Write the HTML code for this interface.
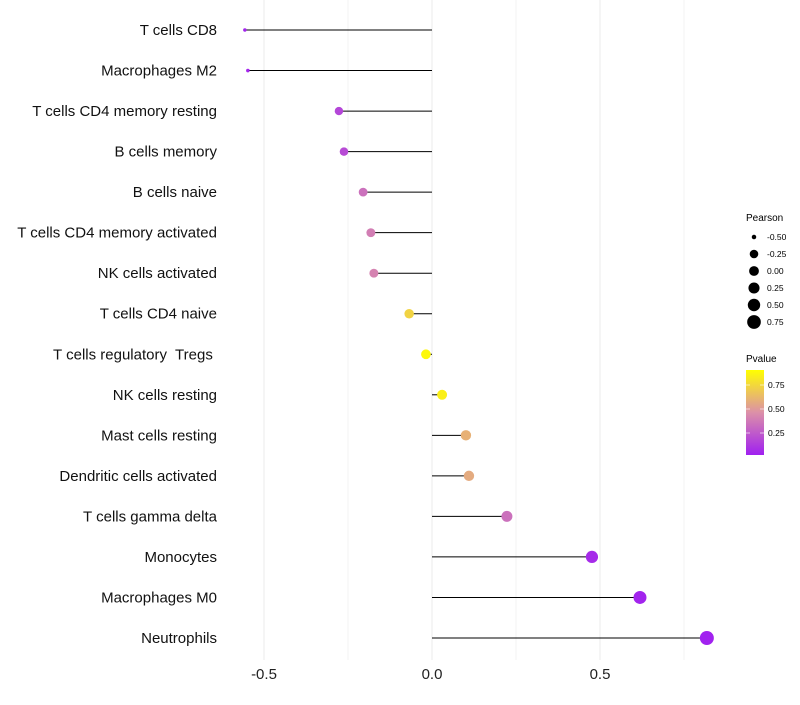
<!DOCTYPE html>
<html><head><meta charset="utf-8"><style>
body{margin:0;background:#fff;font-family:"Liberation Sans",sans-serif}
</style></head><body>
<svg id="chart" width="800" height="700" xmlns="http://www.w3.org/2000/svg" font-family="Liberation Sans, sans-serif">
<defs><linearGradient id="pg" x1="0" y1="1" x2="0" y2="0">
<stop offset="0" stop-color="#A020F0"/><stop offset="0.5" stop-color="#DC90A8"/><stop offset="1" stop-color="#FFFF00"/>
</linearGradient></defs>
<g id="grid"></g><g id="marks"></g><g id="labels"></g>
<g>
<text x="746" y="221" font-size="10">Pearson</text>
<g id="sizeleg"></g>
</g>
<g>
<text x="746" y="362" font-size="10">Pvalue</text>
<rect x="746" y="370" width="18" height="85" fill="url(#pg)"/>
<line x1="746" x2="750" y1="385" y2="385" stroke="#fff" stroke-opacity="0.6"/><line x1="760" x2="764" y1="385" y2="385" stroke="#fff" stroke-opacity="0.6"/>
<line x1="746" x2="750" y1="409" y2="409" stroke="#fff" stroke-opacity="0.6"/><line x1="760" x2="764" y1="409" y2="409" stroke="#fff" stroke-opacity="0.6"/>
<line x1="746" x2="750" y1="433" y2="433" stroke="#fff" stroke-opacity="0.6"/><line x1="760" x2="764" y1="433" y2="433" stroke="#fff" stroke-opacity="0.6"/>
<text x="768" y="388" font-size="8.5">0.75</text><text x="768" y="412" font-size="8.5">0.50</text><text x="768" y="436" font-size="8.5">0.25</text>
</g>
</svg>
<script>
const categories=["T cells CD8","Macrophages M2","T cells CD4 memory resting","B cells memory","B cells naive","T cells CD4 memory activated","NK cells activated","T cells CD4 naive","T cells regulatory  Tregs ","NK cells resting","Mast cells resting","Dendritic cells activated","T cells gamma delta","Monocytes","Macrophages M0","Neutrophils"];
const pearson=[-0.557,-0.548,-0.277,-0.262,-0.205,-0.182,-0.173,-0.068,-0.018,0.030,0.101,0.110,0.223,0.476,0.619,0.818];
const pvalue=[0.02,0.03,0.17,0.19,0.36,0.42,0.44,0.80,0.97,0.93,0.65,0.62,0.36,0.05,0.02,0.01];
const xTicks=[-0.5,0,0.5];
const xTickLabels=["-0.5","0.0","0.5"];
const sizeLegend=[-0.5,-0.25,0,0.25,0.5,0.75];
const NS="http://www.w3.org/2000/svg";
const x=v=>432+v*336;
const y=i=>30+i*(608/15);
const r=v=>v<-0.28?Math.max(1.5,4.2+(v+0.28)*8.9):4.2+(v+0.28)*2.55;
function lerp(a,b,t){return a.map((c,k)=>Math.round(c+(b[k]-c)*t));}
function col(p){const A=[160,32,240],M=[220,144,168],B=[255,255,0];const c=p<0.5?lerp(A,M,p/0.5):lerp(M,B,(p-0.5)/0.5);return `rgb(${c})`;}
function mk(t,a,parent){const e=document.createElementNS(NS,t);for(const k in a)e.setAttribute(k,a[k]);document.getElementById(parent).appendChild(e);return e;}
for(let g=-0.5;g<=0.76;g+=0.25){const l=mk("line",{x1:x(g),x2:x(g),y1:0,y2:660,stroke:"#ebebeb","stroke-width":Math.abs(g*4%2)<0.01?1:0.6},"grid");

}
xTicks.forEach((t,i)=>{const e=mk("text",{x:x(t),y:679,"font-size":15,"text-anchor":"middle",fill:"#222"},"labels");e.textContent=xTickLabels[i];

});
categories.forEach((c,i)=>{
const t=mk("text",{x:217,y:y(i)+5,"font-size":15,"text-anchor":"end",fill:"#111",style:"white-space:pre"},"labels");t.textContent=c;


const s=mk("line",{x1:x(0),x2:x(pearson[i]),y1:y(i),y2:y(i),stroke:"#000","stroke-width":1},"marks");


const p=mk("circle",{cx:x(pearson[i]),cy:y(i),r:r(pearson[i]),fill:col(pvalue[i])},"marks");


});
sizeLegend.forEach((v,i)=>{const cy=237+i*17;
const c=mk("circle",{cx:754,cy:cy,r:r(v),fill:"#000"},"sizeleg");


const t=mk("text",{x:767,y:cy+3,"font-size":8.5},"sizeleg");t.textContent=v.toFixed(2);

});
</script>
</body></html>
